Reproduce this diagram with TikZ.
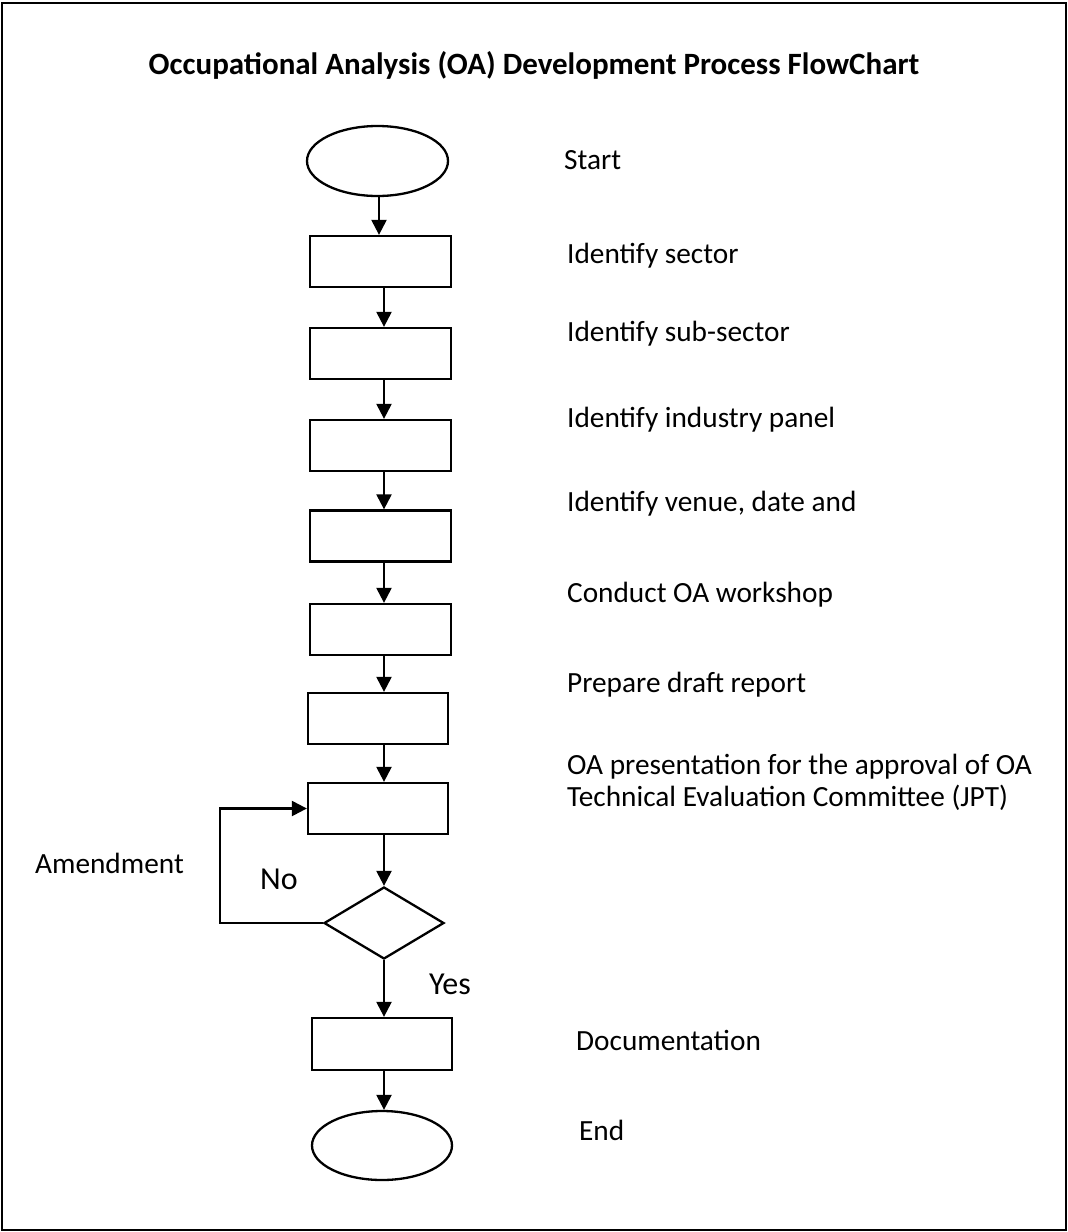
\documentclass[tikz,border=0pt]{standalone}
\usepackage{fontspec}
\setmainfont{Carlito}
\usetikzlibrary{shapes.geometric,arrows.meta}
\begin{document}
\begin{tikzpicture}[x=1pt,y=-1pt,
  line width=2.3pt,
  proc/.style={draw, rectangle, minimum width=141pt, minimum height=51pt, inner sep=0pt},
  term/.style={draw, ellipse, minimum width=141pt, minimum height=70pt, inner sep=0pt},
  decide/.style={draw, diamond, minimum width=120pt, minimum height=72pt, inner sep=0pt},
  flow/.style={-{Triangle[length=15pt,width=15pt]}},
  lbl/.style={anchor=base west, inner sep=0pt, font=\fontsize{29.3}{35}\selectfont},
  biglbl/.style={anchor=base west, inner sep=0pt, font=\fontsize{32}{38}\selectfont},
  heading/.style={anchor=base, inner sep=0pt, font=\bfseries\fontsize{31}{37}\selectfont}
]
\useasboundingbox (0,0) rectangle (1068,1232);
\draw (2,3) rectangle (1066,1230);

\node[heading] (title) at (534,74) {Occupational Analysis (OA) Development Process FlowChart};

% flow column
\coordinate (axis) at (384,0);
\node[term] (start) at (377.5,161) {};
\node[proc] (b1) at (380.5,261.5) {};
\node[proc] (b2) at (380.5,353.5) {};
\node[proc] (b3) at (380.5,445.5) {};
\node[proc] (b4) at (380.5,536) {};
\node[proc] (b5) at (380.5,629.5) {};
\node[proc, minimum width=140pt] (b6) at (378,718.5) {};
\node[proc, minimum width=140pt] (b7) at (378,808.5) {};
\node[decide] (dec) at (384,923) {};
\node[proc, minimum width=140pt, minimum height=52pt] (b8) at (382,1044) {};
\node[term, minimum width=140pt, minimum height=69pt] (end) at (382,1145.5) {};

% connectors
\draw[flow] ([xshift=1.5pt]start.south) -- ([xshift=1.5pt]start.south |- b1.north);
\draw[flow] (b1.south -| axis) -- (b2.north -| axis);
\draw[flow] (b2.south -| axis) -- (b3.north -| axis);
\draw[flow] (b3.south -| axis) -- (b4.north -| axis);
\draw[flow] (b4.south -| axis) -- (b5.north -| axis);
\draw[flow] (b5.south -| axis) -- (b6.north -| axis);
\draw[flow] (b6.south -| axis) -- (b7.north -| axis);
\draw[flow] (b7.south -| axis) -- (dec.north);
\draw[flow] (dec.south) -- (b8.north -| axis);
\draw[flow] (b8.south -| axis) -- (end.north -| axis);
\coordinate (loopx) at (220,0);
\draw[flow] (dec.west) -- (dec.west -| loopx) |- (b7.west);

% step labels
\node[lbl] (tstart) at (563,169) {Start};
\node[lbl] (t1) at (566,263) {Identify sector};
\node[lbl] (t2) at (566,341) {Identify sub-sector};
\node[lbl] (t3) at (566,427) {Identify industry panel};
\node[lbl] (t4) at (566,511) {Identify venue, date and};
\node[lbl] (t5) at (566,602) {Conduct OA workshop};
\node[lbl] (t6) at (566,692) {Prepare draft report};
\node[lbl] (t7a) at (566,774) {OA presentation for the approval of OA};
\node[lbl] (t7b) at (566,806) {Technical Evaluation Committee (JPT)};
\node[lbl] (t8) at (575,1050) {Documentation};
\node[lbl] (tend) at (578,1140) {End};

% branch labels
\node[lbl] (tamend) at (34,873) {Amendment};
\node[biglbl] (tno) at (259,889) {No};
\node[biglbl] (tyes) at (428,994) {Yes};
\end{tikzpicture}
\end{document}
